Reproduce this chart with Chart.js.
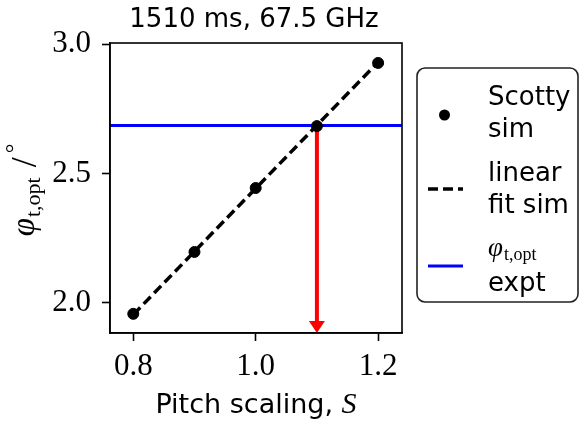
<!DOCTYPE html>
<html>
<head>
<meta charset="utf-8">
<script src="https://cdn.jsdelivr.net/npm/chart.js@4.4.1/dist/chart.umd.min.js"></script>
<style>
  html, body { margin: 0; padding: 0; background: #fff; }
  #wrap { width: 582px; height: 425px; }
</style>
</head>
<body>
<div id="wrap"><canvas id="c" width="582" height="425"></canvas></div>
<script>
// values
const pitchScaling = [0.8, 0.9, 1.0, 1.1, 1.2];
const phiSim = [1.958, 2.197, 2.444, 2.683, 2.927];
const fitX = [0.8, 1.2];
const fitY = [1.955, 2.93];
const phiExpt = 2.685;
const arrowX = 1.1;
const xTicks = [0.8, 1.0, 1.2];
const yTicks = [2.0, 2.5, 3.0];
const xRange = [0.762, 1.239];
const yRange = [1.884, 3.004];
const titleText = "1510 ms, 67.5 GHz";

const SANS = "'DejaVu Sans', sans-serif";
const SERIF = "'Liberation Serif', 'DejaVu Serif', serif";

const frameAndText = {
  id: "frameAndText",
  beforeDatasetDraw(chart, args) {
    // red arrow, under the simulation markers
    if (args.index !== 0) return;
    const { ctx, scales: { x, y } } = chart;
    const px = x.getPixelForValue(arrowX);
    const y0 = y.getPixelForValue(phiExpt);
    const y1 = y.getPixelForValue(yRange[0]);
    const headL = 12, headW = 8;
    ctx.save();
    ctx.strokeStyle = "#ff0000";
    ctx.fillStyle = "#ff0000";
    ctx.lineWidth = 4;
    ctx.beginPath();
    ctx.moveTo(px, y0);
    ctx.lineTo(px, y1 - headL + 1);
    ctx.stroke();
    ctx.beginPath();
    ctx.moveTo(px - headW, y1 - headL);
    ctx.lineTo(px + headW, y1 - headL);
    ctx.lineTo(px, y1);
    ctx.closePath();
    ctx.fill();
    ctx.restore();
  },
  afterDraw(chart) {
    const { ctx, chartArea: a } = chart;
    ctx.save();
    // frame
    ctx.strokeStyle = "#000";
    ctx.lineWidth = 1.6;
    ctx.strokeRect(a.left, a.top, a.right - a.left, a.bottom - a.top);

    // title
    ctx.fillStyle = "#000";
    ctx.textAlign = "center";
    ctx.textBaseline = "alphabetic";
    ctx.font = "26px " + SANS;
    ctx.fillText(titleText, (a.left + a.right) / 2 - 2, 27);

    // x axis title: "Pitch scaling, S"
    ctx.textAlign = "left";
    ctx.font = "27px " + SANS;
    const p1 = "Pitch scaling, ";
    const w1 = ctx.measureText(p1).width;
    ctx.font = "italic 30px " + SERIF;
    const w2 = ctx.measureText("S").width;
    let sx = (a.left + a.right) / 2 - (w1 + w2) / 2;
    ctx.font = "27px " + SANS;
    ctx.fillText(p1, sx, 413);
    ctx.font = "italic 30px " + SERIF;
    ctx.fillText("S", sx + w1, 413);

    // y axis title: phi_{t,opt} / °
    ctx.save();
    ctx.translate(34, 190);
    ctx.rotate(-Math.PI / 2);
    const parts = [
      { t: "\u03C6", f: "italic 33px " + SERIF, dy: 0, gap: 1 },
      { t: "t,opt", f: "22px " + SERIF, dy: 6, gap: 10 },
      { t: "/", f: "36px " + SERIF, dy: 2, gap: 4 },
      { t: "\u00B0", f: "24px " + SERIF, dy: -12, gap: 0 }
    ];
    let total = 0;
    parts.forEach(p => { ctx.font = p.f; p.w = ctx.measureText(p.t).width; total += p.w + p.gap; });
    let cx = -total / 2;
    parts.forEach(p => {
      ctx.font = p.f;
      ctx.fillText(p.t, cx, p.dy);
      cx += p.w + p.gap;
    });
    ctx.restore();

    // legend
    const L = { x: 417, y: 68, w: 161, h: 234 };
    ctx.fillStyle = "#fff";
    ctx.strokeStyle = "#222";
    ctx.lineWidth = 1.6;
    ctx.beginPath();
    ctx.roundRect(L.x, L.y, L.w, L.h, 8);
    ctx.fill();
    ctx.stroke();

    const ds = chart.data.datasets;
    const hx0 = 428, hx1 = 463, tx = 488;
    // entry 1: marker
    ctx.fillStyle = ds[0].backgroundColor;
    ctx.beginPath();
    ctx.arc((hx0 + hx1) / 2 - 1, 115, ds[0].pointRadius, 0, Math.PI * 2);
    ctx.fill();
    // entry 2: dashed line
    ctx.strokeStyle = ds[1].borderColor;
    ctx.lineWidth = ds[1].borderWidth;
    ctx.setLineDash(ds[1].borderDash);
    ctx.beginPath();
    ctx.moveTo(hx0, 189);
    ctx.lineTo(hx1, 189);
    ctx.stroke();
    ctx.setLineDash([]);
    // entry 3: blue line
    ctx.strokeStyle = ds[2].borderColor;
    ctx.lineWidth = ds[2].borderWidth;
    ctx.beginPath();
    ctx.moveTo(hx0, 266);
    ctx.lineTo(hx1, 266);
    ctx.stroke();

    ctx.fillStyle = "#000";
    ctx.textAlign = "left";
    ctx.font = "26px " + SANS;
    ctx.fillText("Scotty", tx, 105);
    ctx.fillText("sim", tx, 137);
    ctx.fillText("linear", tx, 181);
    ctx.fillText("fit sim", tx, 213);
    ctx.fillText("expt", tx, 291);
    ctx.font = "italic 27px " + SERIF;
    ctx.fillText("\u03C6", tx, 256);
    const pw = ctx.measureText("\u03C6").width;
    ctx.font = "18px " + SERIF;
    ctx.fillText("t,opt", tx + pw + 1, 260);
    ctx.restore();
  }
};

new Chart(document.getElementById("c"), {
  type: "scatter",
  data: {
    datasets: [
      {
        label: "Scotty sim",
        data: pitchScaling.map((v, i) => ({ x: v, y: phiSim[i] })),
        backgroundColor: "#000",
        borderColor: "#000",
        pointRadius: 5.5,
        pointHoverRadius: 5.5,
        showLine: false,
        order: 0
      },
      {
        label: "linear fit sim",
        data: fitX.map((v, i) => ({ x: v, y: fitY[i] })),
        borderColor: "#000",
        borderWidth: 3.5,
        borderDash: [10, 5],
        pointRadius: 0,
        showLine: true,
        order: 1
      },
      {
        label: "phi expt",
        data: xRange.map(v => ({ x: v, y: phiExpt })),
        borderColor: "#0000ff",
        borderWidth: 3,
        pointRadius: 0,
        showLine: true,
        order: 2
      }
    ]
  },
  options: {
    responsive: false,
    animation: false,
    devicePixelRatio: 1,
    layout: { padding: { left: 0, right: 180, top: 43, bottom: 0 } },
    plugins: { legend: { display: false }, tooltip: { enabled: false }, title: { display: false } },
    scales: {
      x: {
        type: "linear",
        min: xRange[0],
        max: xRange[1],
        afterBuildTicks: s => { s.ticks = xTicks.map(v => ({ value: v })); },
        afterFit: s => { s.height = 92; },
        grid: { display: true, drawOnChartArea: false, drawTicks: true, tickLength: 8, tickWidth: 1.6, color: "#000" },
        border: { display: true, color: "#000", width: 1.6 },
        ticks: { color: "#000", padding: 7, font: { family: SERIF, size: 31 }, callback: v => v.toFixed(1), maxRotation: 0 }
      },
      y: {
        type: "linear",
        min: yRange[0],
        max: yRange[1],
        afterBuildTicks: s => { s.ticks = yTicks.map(v => ({ value: v })); },
        afterFit: s => { s.width = 110; },
        grid: { display: true, drawOnChartArea: false, drawTicks: true, tickLength: 8, tickWidth: 1.6, color: "#000" },
        border: { display: true, color: "#000", width: 1.6 },
        ticks: { color: "#000", padding: 11, font: { family: SERIF, size: 31 }, callback: v => v.toFixed(1) }
      }
    }
  },
  plugins: [frameAndText]
});
</script>
</body>
</html>
